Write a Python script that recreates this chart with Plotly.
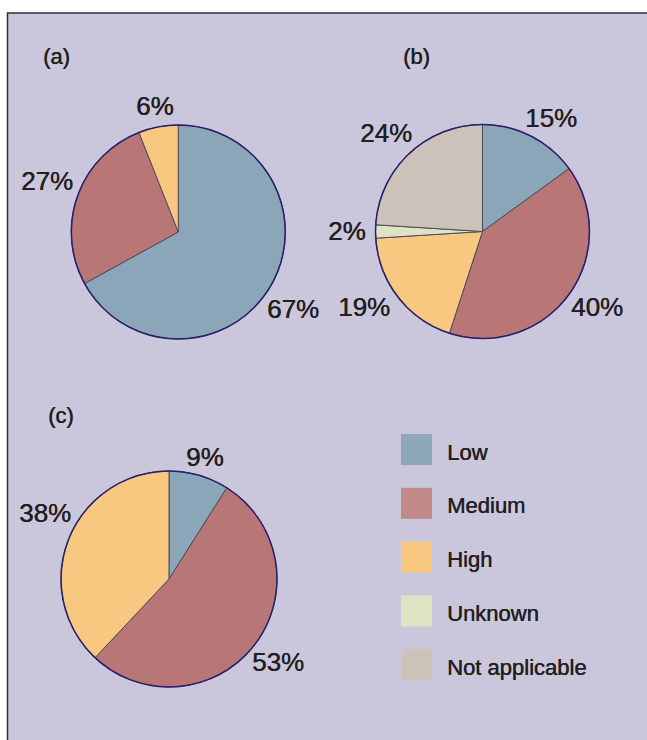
import plotly.graph_objects as go

W, H = 647, 740

# ---- data ----
cats_a = ["Low", "Medium", "High"]
vals_a = [67, 27, 6]
cats_b = ["Low", "Medium", "High", "Unknown", "Not applicable"]
vals_b = [15, 40, 19, 2, 24]
cats_c = ["Low", "Medium", "High"]
vals_c = [9, 53, 38]
legend_cats = ["Low", "Medium", "High", "Unknown", "Not applicable"]
panel_labels = ["(a)", "(b)", "(c)"]

pie_colors = {"Low": "#8ba6b9", "Medium": "#b87677", "High": "#f8c780",
              "Unknown": "#dfe3c5", "Not applicable": "#ccc2b9"}
legend_colors = {"Low": "#8ea7b9", "Medium": "#c08b89", "High": "#f8c880",
                 "Unknown": "#dfe3c4", "Not applicable": "#ccc3b9"}

BG = "#cac7dd"
TXT = "#231f20"
FONT = "Liberation Sans, Arial, Helvetica, sans-serif"
SHADOW = "0.45px 0 0 #231f20"


def px(x):
    return x / W


def py(y):
    return 1 - y / H


def dom(cx, cy, r):
    return dict(x=[px(cx - r), px(cx + r)], y=[py(cy + r), py(cy - r)])


pies = [
    (cats_a, vals_a, (178.3, 232, 107)),
    (cats_b, vals_b, (482.5, 231.5, 107)),
    (cats_c, vals_c, (169, 579, 108)),
]

fig = go.Figure()
shapes = []
annotations = []

# frame
shapes.append(dict(type="rect", xref="paper", yref="paper",
                   x0=px(7.5), x1=px(W + 20), y0=py(H + 20), y1=py(13),
                   fillcolor=BG, line=dict(color="#2e2e2e", width=1.5),
                   layer="below"))

for cats, vals, (cx, cy, r) in pies:
    fig.add_trace(go.Pie(
        labels=cats, values=vals, sort=False, direction="clockwise",
        rotation=0, textinfo="none", hoverinfo="label+percent",
        marker=dict(colors=[pie_colors[c] for c in cats],
                    line=dict(color="#4e4a58", width=1)),
        domain=dom(cx, cy, r), showlegend=False))
    shapes.append(dict(type="circle", xref="paper", yref="paper",
                       x0=px(cx - r), x1=px(cx + r), y0=py(cy + r), y1=py(cy - r),
                       line=dict(color="#2a1f6b", width=1.5), layer="above"))

# percentage labels (positions)
label_pos = [
    [(293, 309), (47, 181), (155, 106)],
    [(550.5, 118), (597, 307), (364, 307), (347, 231), (386, 133)],
    [(205, 457), (278, 662), (44.5, 513)],
]
for (cats, vals, _), poss in zip(pies, label_pos):
    for v, (x, y) in zip(vals, poss):
        annotations.append(dict(x=px(x), y=py(y), xref="paper", yref="paper",
                                text=f"{v}%", showarrow=False,
                                xanchor="center", yanchor="middle",
                                font=dict(family=FONT, size=26, color=TXT,
                                          shadow=SHADOW)))

# panel labels
for lab, (x, y) in zip(panel_labels, [(56, 57), (416, 57), (61, 415)]):
    annotations.append(dict(x=px(x), y=py(y), xref="paper", yref="paper",
                            text=lab, showarrow=False,
                            xanchor="center", yanchor="middle",
                            font=dict(family=FONT, size=22, color=TXT,
                                      shadow=SHADOW)))

# legend
for i, c in enumerate(legend_cats):
    y0 = 434 + i * 53.8
    shapes.append(dict(type="rect", xref="paper", yref="paper",
                       x0=px(401), x1=px(432), y0=py(y0 + 31), y1=py(y0),
                       fillcolor=legend_colors[c], line=dict(width=0)))
    annotations.append(dict(x=px(445), y=py(y0 + 18), xref="paper", yref="paper",
                            text=c, showarrow=False,
                            xanchor="left", yanchor="middle",
                            font=dict(family=FONT, size=22, color=TXT,
                                      shadow=SHADOW)))

fig.update_layout(width=W, height=H, margin=dict(l=0, r=0, t=0, b=0),
                  paper_bgcolor="white", plot_bgcolor="white",
                  shapes=shapes, annotations=annotations, showlegend=False)

fig.write_html("out.html", config={"displayModeBar": False},
               post_script="document.body.style.margin='0';"
                           "document.body.style.overflow='hidden';")
